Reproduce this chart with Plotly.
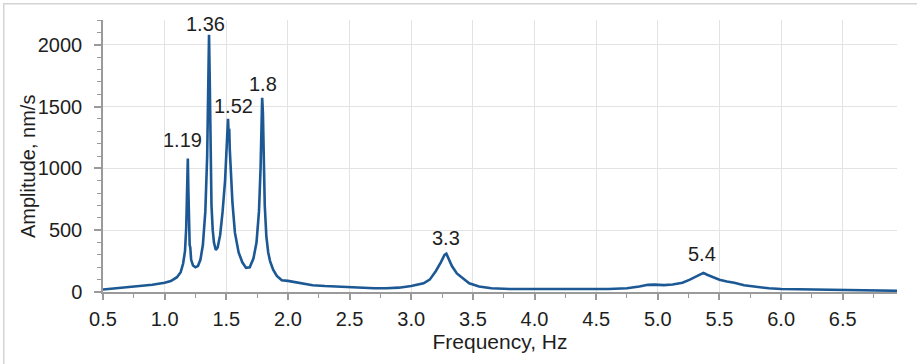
import plotly.graph_objects as go

freq = [0.50, 0.60, 0.70, 0.80, 0.90, 1.00, 1.05, 1.10, 1.13, 1.15, 1.165, 1.175, 1.182, 1.188,
        1.193, 1.198, 1.203, 1.208, 1.215, 1.23, 1.25, 1.27, 1.29, 1.31, 1.33, 1.345, 1.355,
        1.360, 1.366, 1.373, 1.38, 1.39, 1.40, 1.415, 1.43, 1.45, 1.47, 1.49, 1.50, 1.508,
        1.514, 1.519, 1.524, 1.528, 1.535, 1.55, 1.57, 1.60, 1.63, 1.66, 1.69, 1.72, 1.745,
        1.765, 1.778, 1.786, 1.791, 1.797, 1.804, 1.812, 1.825, 1.84, 1.855, 1.88, 1.91, 1.95,
        2.00, 2.10, 2.20, 2.30, 2.40, 2.50, 2.60, 2.70, 2.80, 2.90, 3.00, 3.05, 3.10, 3.15,
        3.20, 3.24, 3.27, 3.285, 3.30, 3.33, 3.37, 3.42, 3.47, 3.55, 3.65, 3.80, 4.00, 4.20,
        4.40, 4.60, 4.75, 4.85, 4.92, 4.97, 5.05, 5.12, 5.20, 5.26, 5.31, 5.35, 5.37, 5.40,
        5.45, 5.50, 5.56, 5.62, 5.70, 5.80, 5.90, 6.00, 6.20, 6.40, 6.60, 6.80, 6.94]
amplitude = [20, 28, 36, 46, 58, 74, 88, 120, 160, 230, 330, 520, 800, 1080,
             800, 480, 380, 360, 260, 215, 200, 210, 260, 380, 650, 1100, 1700,
             2080, 1700, 1000, 700, 500, 400, 340, 360, 460, 650, 900, 1100, 1300,
             1400, 1280, 1320, 1160, 1000, 720, 480, 320, 240, 195, 200, 270, 400,
             650, 1000, 1400, 1570, 1450, 1000, 700, 450, 320, 250, 180, 130, 95,
             90, 70, 55, 48, 42, 38, 32, 30, 30, 35, 48, 58, 70, 100,
             170, 240, 300, 310, 280, 210, 150, 110, 70, 45, 30, 24, 22, 22,
             24, 24, 30, 45, 58, 60, 56, 60, 75, 100, 125, 145, 155, 140,
             120, 100, 85, 75, 55, 40, 30, 24, 20, 16, 13, 11, 10]

peak_labels = ["1.19", "1.36", "1.52", "1.8", "3.3", "5.4"]
peak_freq = [1.188, 1.360, 1.514, 1.791, 3.285, 5.37]
peak_amp = [1080, 2080, 1400, 1570, 310, 155]
label_dx = [-5, -4, 5, 1, 0, -1]
label_dy = [5, -2, 0, 1, 3, 6]

x_ticks = [0.5, 1.0, 1.5, 2.0, 2.5, 3.0, 3.5, 4.0, 4.5, 5.0, 5.5, 6.0, 6.5]
x_tick_text = ["0.5", "1.0", "1.5", "2.0", "2.5", "3.0", "3.5", "4.0", "4.5", "5.0", "5.5", "6.0", "6.5"]
y_ticks = [0, 500, 1000, 1500, 2000]

FONT = "Liberation Sans, Arial, sans-serif"
FS = 20
TXT = "#1e1e1e"
fig = go.Figure()
fig.add_trace(go.Scatter(x=freq, y=amplitude, mode="lines",
                         line=dict(color="#1b5894", width=2.6), hoverinfo="skip"))

for t, fx, fy, dx, dy in zip(peak_labels, peak_freq, peak_amp, label_dx, label_dy):
    fig.add_annotation(x=fx, y=fy, text=t, showarrow=False, yanchor="bottom",
                       xshift=dx, yshift=dy, font=dict(size=FS, color=TXT, family=FONT))

# y-axis title as a rotated annotation (sits slightly below the plot centre)
fig.add_annotation(xref="paper", yref="paper", x=(28 - 103) / 794, y=(292 - 167) / 272,
                   text="Amplitude, nm/s", textangle=-90, showarrow=False,
                   xanchor="center", yanchor="middle",
                   font=dict(size=FS, color=TXT, family=FONT))

# light frame around the picture (only top and left edges fall inside the image)
fig.add_annotation(xref="paper", yref="paper", x=(3 - 103) / 794, y=(292 - 3) / 272,
                   xanchor="left", yanchor="top", text=" ", showarrow=False,
                   width=940, height=390, borderpad=0, borderwidth=1.5,
                   bordercolor="#d4d4d4", bgcolor="rgba(0,0,0,0)")

axis_col = "#9a9a9a"
grid_col = "#e3e3e3"
fig.update_xaxes(range=[0.5, 6.94], tickvals=x_ticks, ticktext=x_tick_text,
                 showline=True, linecolor=axis_col, linewidth=1.5,
                 ticks="outside", ticklen=6, tickcolor=axis_col, tickwidth=1.5,
                 showgrid=True, gridcolor=grid_col, gridwidth=1, zeroline=False,
                 minor=dict(dtick=0.25, tick0=0.5, ticks="outside", ticklen=4,
                            tickcolor=axis_col, tickwidth=1.2, showgrid=False),
                 tickfont=dict(size=FS, color=TXT, family=FONT),
                 ticklabelstandoff=2,
                 title=dict(text="Frequency, Hz", font=dict(size=21, color=TXT, family=FONT),
                            standoff=4))
fig.update_yaxes(range=[0, 2200], tickvals=y_ticks,
                 showline=True, linecolor=axis_col, linewidth=1.5,
                 ticks="outside", ticklen=7, tickcolor=axis_col, tickwidth=1.5,
                 showgrid=True, gridcolor=grid_col, gridwidth=1, zeroline=False,
                 minor=dict(dtick=100, ticks="outside", ticklen=4,
                            tickcolor=axis_col, tickwidth=1.2, showgrid=False),
                 tickfont=dict(size=FS, color=TXT, family=FONT),
                 ticklabelstandoff=8)

fig.update_layout(width=917, height=364, margin=dict(l=103, r=20, t=20, b=72),
                  paper_bgcolor="white", plot_bgcolor="white", showlegend=False,
                  font=dict(family=FONT))
fig.write_html("out.html")
